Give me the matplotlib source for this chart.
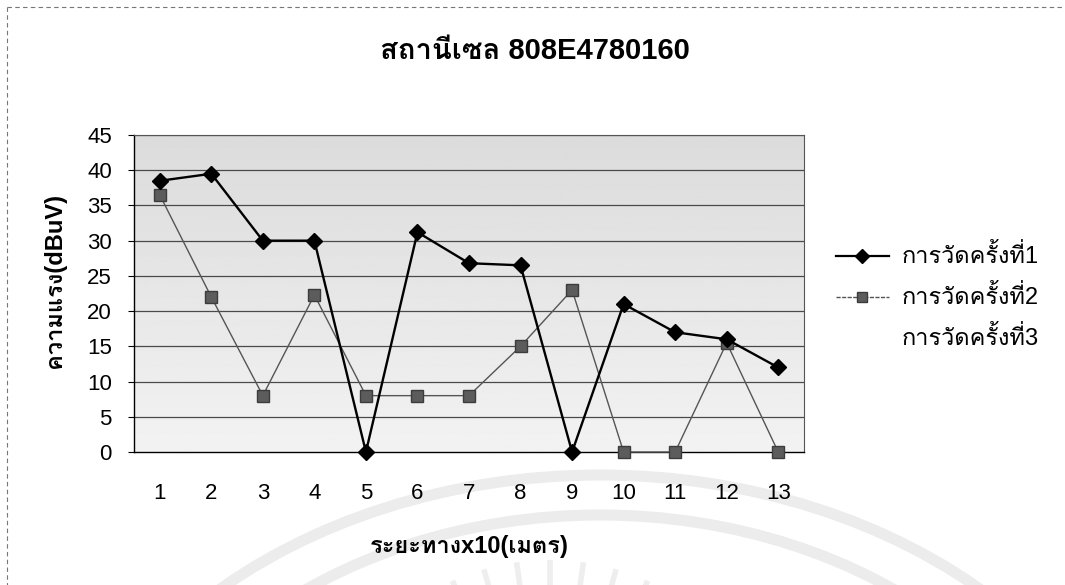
import matplotlib
matplotlib.use("Agg")
import matplotlib.pyplot as plt
import numpy as np
from matplotlib.patches import Arc

# --- data -------------------------------------------------------------
distance = list(range(1, 14))                      # x10 metres
measure_1 = [38.5, 39.5, 30, 30, 0, 31.2, 26.8, 26.5, 0, 21, 17, 16, 12]
measure_2 = [36.5, 22, 8, 22.3, 8, 8, 8, 15, 23, 0, 0, 15.5, 0]
measure_3 = []                                     # no readings recorded
series_names = ["การวัดครั้งที่1", "การวัดครั้งที่2", "การวัดครั้งที่3"]
y_ticks = list(range(0, 50, 5))

title_text = "สถานีเซล 808E4780160"
x_label = "ระยะทางx10(เมตร)"
y_label = "ความแรง(dBuV)"

FONT = ["Liberation Sans", "Loma", "DejaVu Sans"]
plt.rcParams["font.family"] = FONT

W, H = 1065, 585
fig = plt.figure(figsize=(W / 100, H / 100), dpi=100)
fig.patch.set_facecolor("white")

# overlay in pixel coordinates (origin top-left) for labels and decoration
ov = fig.add_axes([0, 0, 1, 1], zorder=-5)
ov.set_xlim(0, W)
ov.set_ylim(H, 0)
ov.axis("off")

# faint watermark emblem below the chart
for (w, h), lw in [((1120, 860), 8), ((1000, 780), 8)]:
    ov.add_patch(Arc((600, 905), w, h, theta1=180, theta2=360,
                     color="#ececec", lw=lw))
for ang in np.linspace(66, 114, 7):
    a = np.deg2rad(ang)
    ov.plot([550 + 205 * np.cos(a), 550 + 240 * np.cos(a)],
            [800 - 205 * np.sin(a), 800 - 240 * np.sin(a)],
            color="#eeeeee", lw=4, solid_capstyle="butt")

# chart frame (dashed, as printed)
ov.plot([7, 7], [7, H], color="#777777", lw=0.8, linestyle=(0, (4, 3)))
ov.plot([7, W], [7, 7], color="#777777", lw=0.8, linestyle=(0, (4, 3)))

# plot area in pixel coordinates
left, right, top, bottom = 134, 804, 135, 452
ax = fig.add_axes([left / W, 1 - bottom / H, (right - left) / W, (bottom - top) / H])

# plot area shading
grad = np.linspace(0.95, 0.86, 200).reshape(-1, 1)
ax.imshow(grad, extent=[0.5, 13.5, 0, 45], origin="lower", aspect="auto",
          cmap="gray", vmin=0, vmax=1, zorder=0)

ax.set_xlim(0.5, 13.5)
ax.set_ylim(0, 45)

# gridlines
for yv in y_ticks[1:]:
    ax.axhline(yv, color="#4a4a4a", lw=0.9, zorder=1)

# series
ax.plot(distance, measure_1, color="black", lw=1.7, marker="D", markersize=8,
        markerfacecolor="black", markeredgecolor="black", zorder=4, clip_on=False)
ax.plot(distance, measure_2, color="#555555", lw=1.0, marker="s", markersize=8,
        markerfacecolor="#5c5c5c", markeredgecolor="#3c3c3c", zorder=3, clip_on=False)
ax.plot(distance[:len(measure_3)], measure_3, lw=0)

# axes styling
for side in ["left", "bottom"]:
    ax.spines[side].set_color("black")
    ax.spines[side].set_linewidth(1.0)
for side in ["top", "right"]:
    ax.spines[side].set_color("#555555")
    ax.spines[side].set_linewidth(0.8)
    ax.spines[side].set_linestyle((0, (2, 1)))

ax.set_yticks(y_ticks)
ax.set_xticks(distance)
ax.set_xticklabels([str(d) for d in distance])
ax.tick_params(axis="y", length=4, width=0.8, pad=12, labelsize=16, direction="out")
ax.tick_params(axis="x", length=0, pad=22, labelsize=16)

# titles
ov.text(535, 51, title_text, fontsize=21, fontweight="bold", ha="center", va="center")
ov.text(469, 546, x_label, fontsize=17, fontweight="bold", ha="center", va="center")
ov.text(55, 280, y_label, fontsize=17, fontweight="bold", ha="center", va="center",
        rotation=90)

# legend
legend_rows = [256, 297, 338]
styles = [
    dict(color="black", lw=1.6, marker="D", markersize=7, markerfacecolor="black"),
    dict(color="#555555", lw=1.0, marker="s", markersize=7, markerfacecolor="#5c5c5c",
         markeredgecolor="#3c3c3c", linestyle=(0, (3, 1))),
    None,
]
for yrow, name, st in zip(legend_rows, series_names, styles):
    if st is not None:
        ov.plot([836, 889], [yrow, yrow], **{k: v for k, v in st.items()
                                            if not k.startswith("marker")})
        ov.plot([862], [yrow], linestyle="none",
                **{k: v for k, v in st.items() if k.startswith("marker") or k == "color"})
    ov.text(902, yrow, name, fontsize=17, ha="left", va="center")

fig.savefig("out.png", dpi=100)
